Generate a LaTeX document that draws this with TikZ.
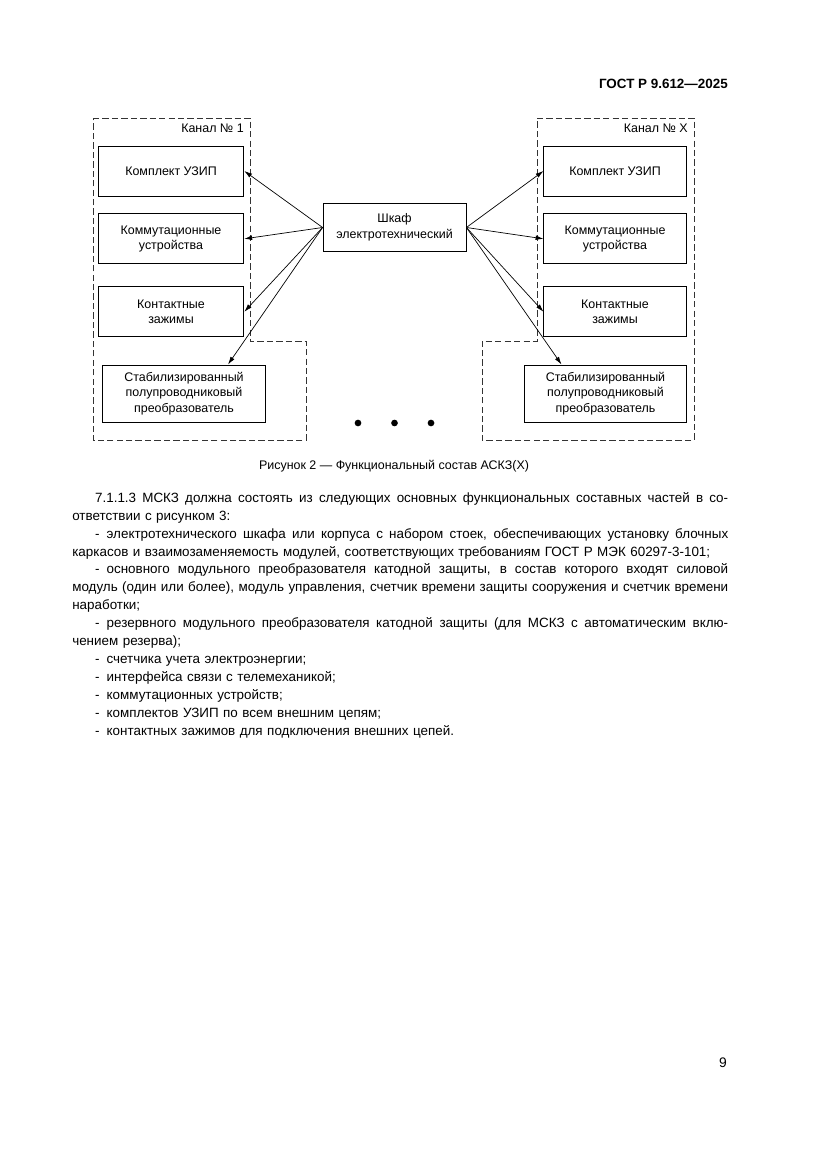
\documentclass[tikz,border=0pt]{standalone}
\usepackage{fontspec}
\setmainfont{Liberation Sans}
\usetikzlibrary{arrows.meta,positioning,calc}

\newlength\bodyw
\setlength\bodyw{166.6mm}
\newcommand\jline[1]{\noindent\hbox to\bodyw{\spaceskip=0.278em plus 1fil\relax #1}\par}
\newcommand\lline[1]{\noindent\hbox to\bodyw{#1\hfil}\par}
\newcommand\ind{\hspace*{5.8mm}}
\newcommand\dsh{-\kern1.8mm}

\begin{document}
\begin{tikzpicture}[
  x=0.254mm, y=-0.254mm,
  font=\fontsize{9}{11.2}\selectfont,
  blk/.style={rectangle, draw=black, line width=0.65pt, minimum width=37mm, minimum height=12.7mm, align=center, inner sep=1pt},
  wideblk/.style={blk, minimum width=41.3mm, minimum height=14.5mm},
  arr/.style={-{Latex[length=2mm,width=1.2mm]}, line width=0.5pt},
  chan/.style={dash pattern=on 1.6mm off 0.8mm, line width=0.55pt, black!80},
  lbl/.style={anchor=east, inner sep=0pt},
  dot/.style={circle, fill=black, inner sep=0pt, minimum size=1.7mm},
  body/.style={anchor=north west, inner sep=0pt, text width=\bodyw, align=left, font=\fontsize{9.7}{12.96}\selectfont}
]
\fill[white] (0,0) rectangle (827,1169);
\useasboundingbox (0,0) rectangle (827,1169);

\node[anchor=east, inner sep=0pt, font=\bfseries\fontsize{9.7}{12}\selectfont] (hdr) at (728,84) {ГОСТ Р 9.612—2025};

% channel outlines
\draw[chan] (93,118) -- (250,118) -- (250,341) -- (306,341) -- (306,440) -- (93,440) -- cycle;
\draw[chan] (537,118) -- (694,118) -- (694,440) -- (482,440) -- (482,341) -- (537,341) -- cycle;
\node[lbl] (ch1) at (244,128) {Канал № 1};
\node[lbl] (chx) at (688,128) {Канал № Х};

% cabinet
\node[blk, minimum width=36.3mm, minimum height=12.4mm] (shkaf) at (394.5,227.5) {Шкаф\\электротехнический};

% channel 1
\node[blk] (usip1) at (171,171) {Комплект УЗИП};
\node[blk, below=4.3mm of usip1] (komm1) {Коммутационные\\устройства};
\node[blk, below=5.6mm of komm1] (kont1) {Контактные\\зажимы};
\node[wideblk] (stab1) at (184,393.5) {Стабилизированный\\полупроводниковый\\преобразователь};

% channel X
\node[blk, minimum width=36.1mm] (usip2) at (615,171) {Комплект УЗИП};
\node[blk, minimum width=36.1mm, below=4.3mm of usip2] (komm2) {Коммутационные\\устройства};
\node[blk, minimum width=36.1mm, below=5.6mm of komm2] (kont2) {Контактные\\зажимы};
\node[wideblk] (stab2) at (605.5,393.5) {Стабилизированный\\полупроводниковый\\преобразователь};

\draw[arr] (shkaf.west) -- (usip1.east);
\draw[arr] (shkaf.west) -- (komm1.east);
\draw[arr] (shkaf.west) -- (kont1.east);
\draw[arr] (shkaf.west) -- ($(stab1.north)+(44,0)$);
\draw[arr] (shkaf.east) -- (usip2.west);
\draw[arr] (shkaf.east) -- (komm2.west);
\draw[arr] (shkaf.east) -- (kont2.west);
\draw[arr] (shkaf.east) -- ($(stab2.north)+(-44,0)$);

\node[dot] (d1) at (358,423) {};
\node[dot] (d2) at (394.5,423) {};
\node[dot] (d3) at (431,423) {};

\node (cap) at (394,466) {Рисунок 2 — Функциональный состав АСКЗ(Х)};

\node[body] (txt) at (72,492) {%
\jline{\ind 7.1.1.3 МСКЗ должна состоять из следующих основных функциональных составных частей в со-}
\lline{ответствии с рисунком 3:}
\jline{\ind\dsh электротехнического шкафа или корпуса с набором стоек, обеспечивающих установку блочных}
\lline{каркасов и взаимозаменяемость модулей, соответствующих требованиям ГОСТ Р МЭК 60297-3-101;}
\jline{\ind\dsh основного модульного преобразователя катодной защиты, в состав которого входят силовой}
\jline{модуль (один или более), модуль управления, счетчик времени защиты сооружения и счетчик времени}
\lline{наработки;}
\jline{\ind\dsh резервного модульного преобразователя катодной защиты (для МСКЗ с автоматическим вклю-}
\lline{чением резерва);}
\lline{\ind\dsh счетчика учета электроэнергии;}
\lline{\ind\dsh интерфейса связи с телемеханикой;}
\lline{\ind\dsh коммутационных устройств;}
\lline{\ind\dsh комплектов УЗИП по всем внешним цепям;}
\lline{\ind\dsh контактных зажимов для подключения внешних цепей.}
};

\node (pg) at (723,1063) {\fontsize{10}{12}\selectfont 9};
\end{tikzpicture}
\end{document}
